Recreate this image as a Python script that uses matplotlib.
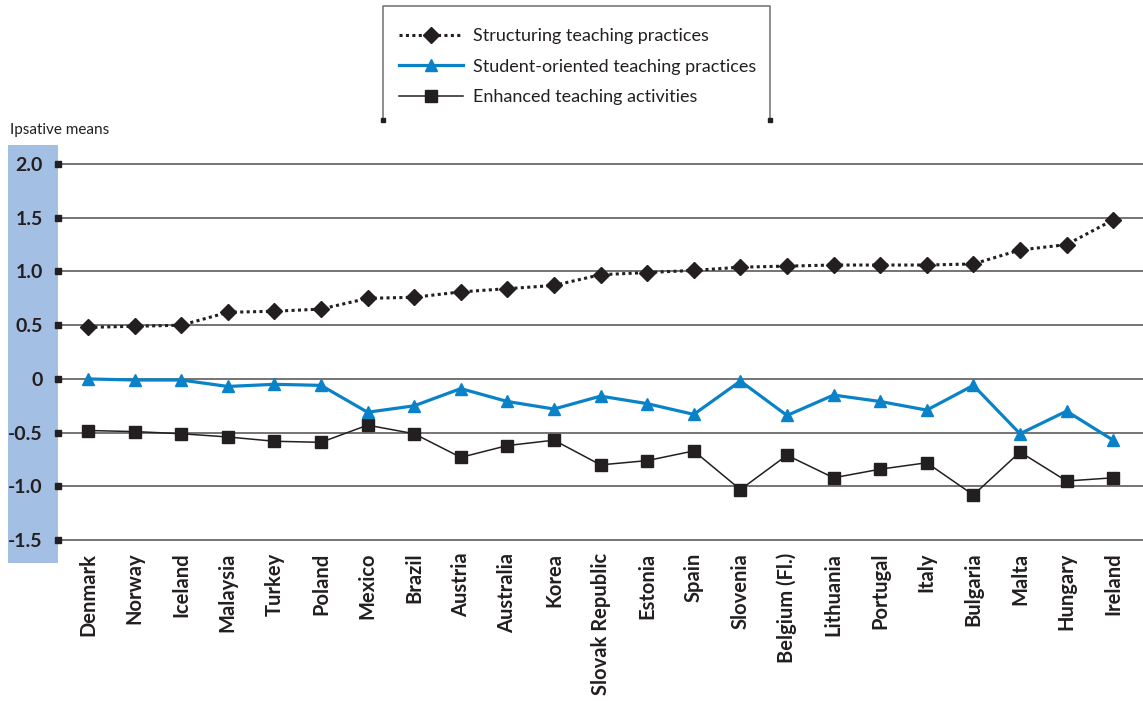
import matplotlib
matplotlib.use("Agg")
import matplotlib.pyplot as plt
from matplotlib.patches import Rectangle
from matplotlib.lines import Line2D

countries = ["Denmark", "Norway", "Iceland", "Malaysia", "Turkey", "Poland", "Mexico",
             "Brazil", "Austria", "Australia", "Korea", "Slovak Republic", "Estonia",
             "Spain", "Slovenia", "Belgium (Fl.)", "Lithuania", "Portugal", "Italy",
             "Bulgaria", "Malta", "Hungary", "Ireland"]
structuring = [0.48, 0.49, 0.50, 0.62, 0.63, 0.65, 0.75, 0.76, 0.81, 0.84, 0.87, 0.97,
               0.99, 1.01, 1.04, 1.05, 1.06, 1.06, 1.06, 1.07, 1.20, 1.25, 1.48]
student = [0.00, -0.01, -0.01, -0.07, -0.05, -0.06, -0.31, -0.25, -0.09, -0.21, -0.28, -0.16,
           -0.23, -0.33, -0.02, -0.34, -0.15, -0.21, -0.29, -0.06, -0.51, -0.30, -0.57]
enhanced = [-0.48, -0.49, -0.51, -0.54, -0.58, -0.59, -0.43, -0.51, -0.73, -0.62, -0.57, -0.80,
            -0.76, -0.67, -1.03, -0.71, -0.92, -0.84, -0.78, -1.08, -0.68, -0.95, -0.92]
yticks = [2.0, 1.5, 1.0, 0.5, 0.0, -0.5, -1.0, -1.5]
ytick_labels = ["2.0", "1.5", "1.0", "0.5", "0", "-0.5", "-1.0", "-1.5"]
series_labels = ["Structuring teaching practices", "Student-oriented teaching practices",
                 "Enhanced teaching activities"]

W, H = 1143, 701
fig = plt.figure(figsize=(W / 100, H / 100), dpi=100)
fig.patch.set_facecolor("white")

# blue band behind y-axis labels
fig.patches.append(Rectangle((8 / W, 1 - 563 / H), 50 / W, (563 - 145) / H,
                             transform=fig.transFigure, facecolor="#A3BFE3",
                             edgecolor="none", zorder=-5))

ax_l, ax_r, ax_t, ax_b = 58, 1143, 145, 550
ax = fig.add_axes([ax_l / W, 1 - ax_b / H, (ax_r - ax_l) / W, (ax_b - ax_t) / H])
ax.set_zorder(2)
ax.set_facecolor("none")
for s in ax.spines.values():
    s.set_visible(False)

x = list(range(len(countries)))
ax.set_xlim(-0.644, 22.64)
ax.set_ylim(-1.592, 2.177)

for yv in yticks:
    ax.axhline(yv, color="#5c5c5c", lw=1.2, zorder=1)
ax.plot([0] * len(yticks), yticks, ls="none", marker="s", ms=4.2, color="#231f20",
        transform=ax.get_yaxis_transform(), clip_on=False, zorder=3)

blue = "#0A82C8"
dark = "#231f20"
l3, = ax.plot(x, enhanced, color=dark, lw=1.1, marker="s", ms=8.5, zorder=4,
              label=series_labels[2])
l2, = ax.plot(x, student, color=blue, lw=2.3, marker="^", ms=9, zorder=5,
              label=series_labels[1])
l1, = ax.plot(x, structuring, color=dark, lw=2.2, ls=(0, (1, 1.1)), marker="D", ms=8,
              zorder=6, label=series_labels[0])

ax.set_yticks(yticks)
ax.set_yticklabels(ytick_labels, fontfamily="Lato", fontweight="bold", fontsize=14,
                   color="#231f20")
ax.tick_params(axis="y", length=0, pad=11)
ax.set_xticks(x)
ax.set_xticklabels(countries, rotation=90, fontfamily="Lato", fontweight="bold",
                   fontsize=14.5, color="#231f20", va="top", ha="center")
ax.tick_params(axis="x", length=0, pad=2)

fig.text(10 / W, 1 - 130 / H, "Ipsative means", fontfamily="Lato", fontsize=11,
         color="#231f20", va="center", ha="left")

# legend box (top, left, right borders with square feet)
bc = "#7a7a7a"
fig.lines.append(Line2D([383 / W, 383 / W, 770 / W, 770 / W],
                        [1 - 120 / H, 1 - 6 / H, 1 - 6 / H, 1 - 120 / H],
                        transform=fig.transFigure, color=bc, lw=1.2))
fig.lines.append(Line2D([383 / W, 770 / W], [1 - 120 / H, 1 - 120 / H], ls="none",
                        marker="s", ms=3.5, color=dark, transform=fig.transFigure))

leg = fig.legend(handles=[l1, l2, l3], labels=series_labels, loc="upper left",
                 bbox_to_anchor=(383 / W, 1 - 12 / H), frameon=False, numpoints=1,
                 handlelength=3.55, handletextpad=0.55, labelspacing=0.8,
                 prop={"family": "Lato", "size": 13})
for t in leg.get_texts():
    t.set_color("#231f20")

fig.savefig("out.png", dpi=100)
